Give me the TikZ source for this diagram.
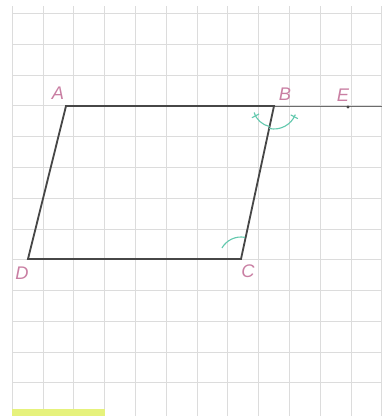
\documentclass[tikz,border=0pt]{standalone}
\usepackage{fontspec}
\setmainfont{Liberation Sans}
\usetikzlibrary{calc}
\definecolor{gridgray}{HTML}{DCDCDC}
\definecolor{edge}{HTML}{474747}
\definecolor{lbl}{HTML}{C97FA3}
\definecolor{markgreen}{HTML}{63C9AE}
\definecolor{barcol}{HTML}{E6F27C}

\begin{document}
\begin{tikzpicture}[
  x=0.025cm, y=0.025cm,
  gridline/.style={draw=gridgray, line width=0.6pt},
  side/.style={draw=edge, line width=1.3pt, line cap=round},
  ray/.style={draw=edge!80, line width=0.7pt},
  anglemark/.style={draw=markgreen, line width=0.8pt},
  ptlabel/.style={text=lbl, font=\fontsize{13}{13}\selectfont\itshape, inner sep=0pt}
]
\useasboundingbox (0,0) rectangle (382,416);
% squared paper
\foreach \gx in {12,43,73,104,135,166,197,227,258,289,320,351,381}
  \draw[gridline] (\gx,0) -- (\gx,410);
\foreach \gy in {403,372,341,311,280,249,218,187,157,126,95,64,34}
  \draw[gridline] (12,\gy) -- (382,\gy);
\fill[barcol] (12,0) rectangle (105,7);

% points
\coordinate (A) at (66,310);
\coordinate (B) at (274,310);
\coordinate (C) at (241,157);
\coordinate (D) at (28,157);
\coordinate (E) at (348,309);
\coordinate (Eend) at (382,310);

\draw[ray] (B) -- (Eend);
\draw[side] (A) -- (B) -- (C) -- (D) -- cycle;
\fill[edge] (E) circle (1.6);

% angle marks
\draw[anglemark] ($(B)+(198:21)$) arc (198:257.8:21);
\draw[anglemark] ($(B)+(257.8:23)$) arc (257.8:338:23);
\draw[anglemark] ($(B)+(208:17)$) -- ($(B)+(208:25)$);
\draw[anglemark] ($(B)+(332:19)$) -- ($(B)+(332:27)$);
\draw[anglemark] ($(C)+(80:22)$) arc (80:150:22);

\node[ptlabel] (lA) at (58,323) {A};
\node[ptlabel] (lB) at (285,322) {B};
\node[ptlabel] (lE) at (343,321) {E};
\node[ptlabel] (lD) at (22,143) {D};
\node[ptlabel] (lC) at (248,145) {C};
\end{tikzpicture}
\end{document}
